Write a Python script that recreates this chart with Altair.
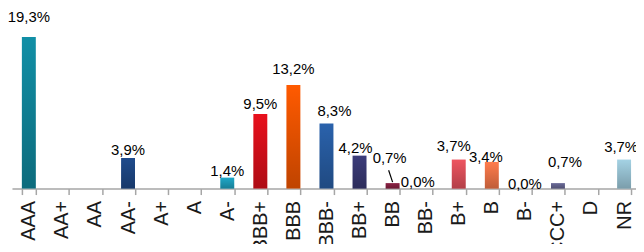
import altair as alt
import pandas as pd

categories = ["AAA", "AA+", "AA", "AA-", "A+", "A", "A-", "BBB+", "BBB", "BBB-",
              "BB+", "BB", "BB-", "B+", "B", "B-", "CCC+", "D", "NR"]
values = [19.3, None, None, 3.9, None, None, 1.4, 9.5, 13.2, 8.3,
          4.2, 0.7, 0.0, 3.7, 3.4, 0.0, 0.7, None, 3.7]
bar_colors = ["#118fa6", "#cccccc", "#cccccc", "#1f4b8c", "#cccccc", "#cccccc", "#1fa8c8",
              "#e8101c", "#ff5a00", "#2a62ac", "#3c3c7a", "#8c2244", "#cccccc",
              "#ee5560", "#ff7c4c", "#cccccc", "#6a6a98", "#cccccc", "#a4d2e4"]

# label nudges (pixels) as placed in the original
nudge_x = {"BBB-": 8, "BB+": -4, "BB": -3, "BB-": -8, "B+": -5, "B": -6, "CCC+": 7, "NR": -3}
nudge_y = {"AAA": -20, "AA-": -8, "A-": -7, "BBB+": -10, "BBB": -16, "BBB-": -12,
           "BB+": -8, "BB": -25, "BB-": -7, "B+": -14, "B": -5, "B-": -5,
           "CCC+": -21, "NR": -13}

df = pd.DataFrame({
    "cat": categories,
    "value": values,
    "color": bar_colors,
    "dx": [nudge_x.get(c, 0) for c in categories],
    "dy": [nudge_y.get(c, -8) for c in categories],
})

x_enc = alt.X(
    "cat:N",
    sort=categories,
    scale=alt.Scale(domain=categories, paddingInner=0.579, paddingOuter=0.2245, align=0.667),
    axis=alt.Axis(
        title=None, labelAngle=-90, labelAlign="right", labelBaseline="middle",
        labelFont="Liberation Sans", labelFontSize=20, labelColor="#1a1a1a",
        domainColor="#a6a6a6", domainWidth=1.5, tickColor="#a6a6a6", tickWidth=1.5,
        tickSize=6, tickBand="extent", labelPadding=6, grid=False,
    ),
)
y_enc = alt.Y("value:Q", scale=alt.Scale(domain=[0, 20], nice=False, zero=True), axis=None)

base = alt.Chart(df)

bars = base.transform_filter("datum.value != null").mark_bar().encode(
    x=x_enc, y=y_enc, color=alt.Color("color:N", scale=None)
)

shade = base.transform_filter("datum.value != null").mark_bar(
    color=alt.LinearGradient(
        gradient="linear",
        stops=[alt.GradientStop(color="rgba(0,0,0,0)", offset=0),
               alt.GradientStop(color="rgba(0,0,0,0.25)", offset=1)],
        x1=0, x2=0, y1=0, y2=1,
    )
).encode(x=x_enc, y=y_enc)

labels = base.transform_filter("datum.value != null").transform_calculate(
    label="replace(format(datum.value, '.1f'), '.', ',') + '%'"
).mark_text(
    font="Liberation Sans", fontSize=15, baseline="middle", color="#000000",
    dx=alt.expr("datum.dx"), dy=alt.expr("datum.dy"),
).encode(x=x_enc, y=y_enc, text="label:N")

leader = base.transform_filter("datum.cat == 'BB'").mark_rule(
    color="#000000", strokeWidth=1.2, xOffset=-4, x2Offset=0, yOffset=-13, y2Offset=-1
).encode(x=x_enc, x2=alt.X2("cat:N"), y=y_enc, y2=alt.Y2("value:Q"))

chart = alt.layer(bars, shade, labels, leader).properties(
    width=628, height=158,
    autosize=alt.AutoSizeParams(type="none"),
    padding={"left": 4, "top": 23, "right": 0, "bottom": 55},
).configure_view(stroke=None)

chart.save("out.html", embed_options={"renderer": "svg", "actions": False})
